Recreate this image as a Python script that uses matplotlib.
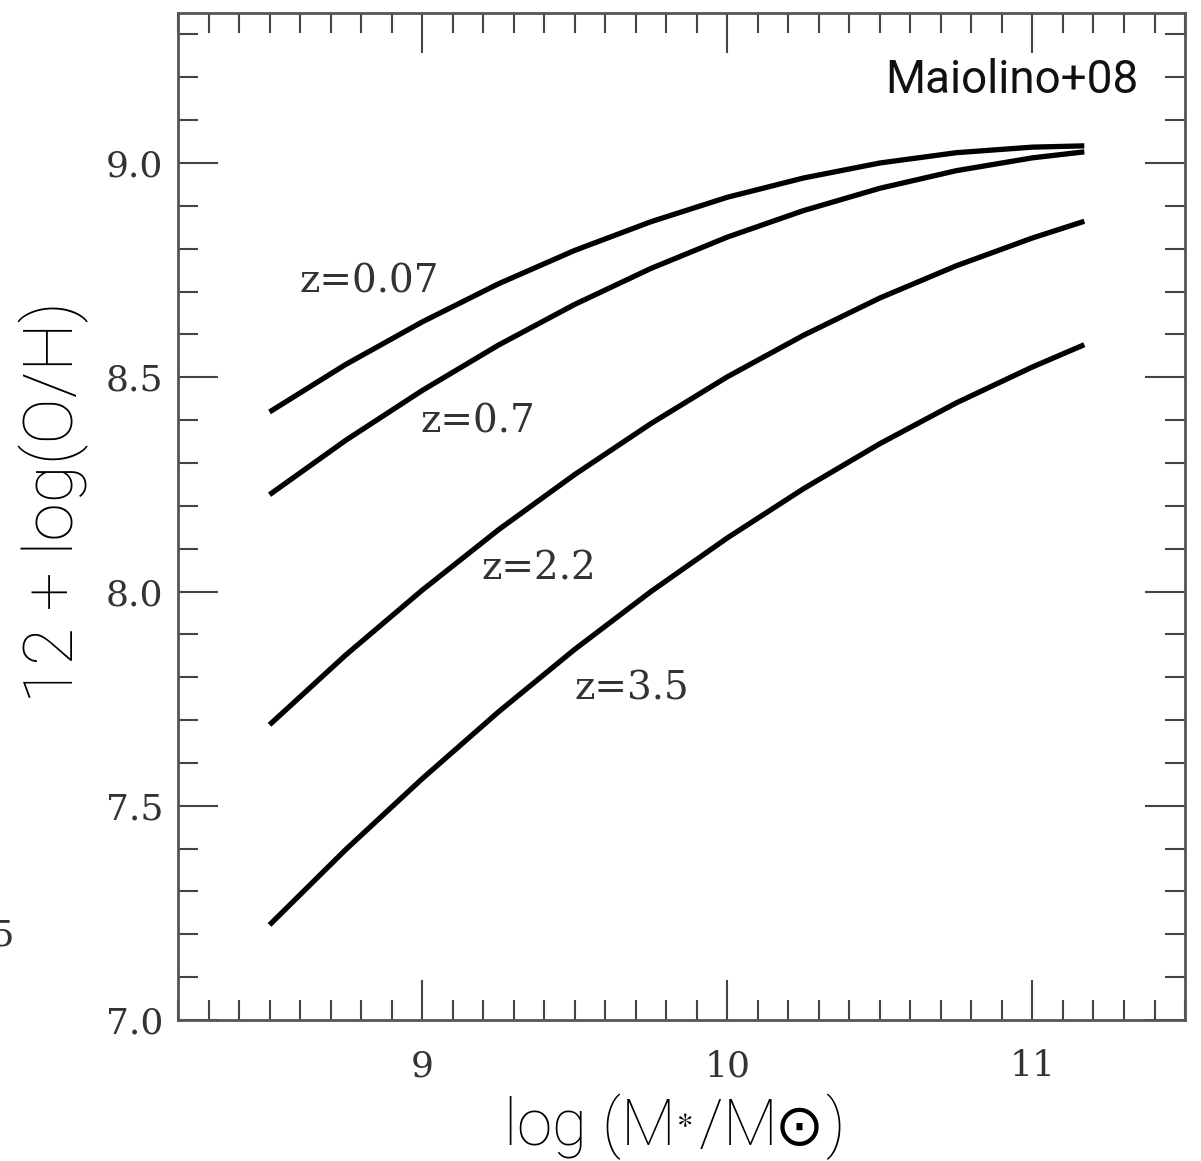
import numpy as np
import matplotlib
matplotlib.use('Agg')
import matplotlib.pyplot as plt
from matplotlib.ticker import MultipleLocator, FormatStrFormatter
from matplotlib.offsetbox import TextArea, HPacker, AnnotationBbox

plt.rcParams['mathtext.fontset'] = 'stix'

# mass grid (log M*/Msun) and metallicity curves
logm = [8.5, 8.75, 9.0, 9.25, 9.5, 9.75, 10.0, 10.25, 10.5, 10.75, 11.0, 11.17]
oh_z007 = [8.419, 8.530, 8.629, 8.718, 8.796, 8.863, 8.920, 8.965, 9.000, 9.024, 9.037, 9.040]
oh_z07 = [8.226, 8.353, 8.469, 8.575, 8.670, 8.754, 8.827, 8.889, 8.941, 8.982, 9.012, 9.026]
oh_z22 = [7.689, 7.852, 8.003, 8.144, 8.273, 8.392, 8.501, 8.598, 8.685, 8.760, 8.825, 8.864]
oh_z35 = [7.222, 7.398, 7.563, 7.719, 7.865, 8.000, 8.125, 8.240, 8.345, 8.440, 8.524, 8.576]

curves = [oh_z007, oh_z07, oh_z22, oh_z35]
labels = ['z=0.07', 'z=0.7', 'z=2.2', 'z=3.5']
label_xy = [(8.597, 8.697), (8.996, 8.371), (9.195, 8.028), (9.499, 7.747)]

fig = plt.figure(figsize=(12.01, 11.61), dpi=100)
ax = fig.add_axes([0.1482, 0.1214, 0.8385, 0.8674])

for y in curves:
    ax.plot(logm, y, color='black', lw=3.8, solid_capstyle='butt')

for lab, (lx, ly) in zip(labels, label_xy):
    ax.text(lx, ly, lab, family='DejaVu Serif', fontsize=28, color='#333333',
            ha='left', va='baseline')

ax.set_xlim(8.2, 11.5)
ax.set_ylim(7.0, 9.35)

ax.xaxis.set_major_locator(MultipleLocator(1))
ax.xaxis.set_minor_locator(MultipleLocator(0.1))
ax.yaxis.set_major_locator(MultipleLocator(0.5))
ax.yaxis.set_minor_locator(MultipleLocator(0.1))
ax.xaxis.set_major_formatter(FormatStrFormatter('%d'))
ax.yaxis.set_major_formatter(FormatStrFormatter('%.1f'))

ax.tick_params(which='both', direction='in', top=True, right=True,
               color='#444444', width=1.5)
ax.tick_params(which='major', length=28.8)
ax.tick_params(which='minor', length=14.4)
ax.tick_params(axis='x', which='major', pad=21, labelsize=26, labelcolor='#333333')
ax.tick_params(axis='y', which='major', pad=10.5, labelsize=26, labelcolor='#333333')
for t in ax.get_xticklabels() + ax.get_yticklabels():
    t.set_family('DejaVu Serif')

for s in ax.spines.values():
    s.set_color('#555555')
    s.set_linewidth(2.0)

# axis titles and note
fig.text(0.045, 0.5676, '12 + log(O/H)', rotation=90, ha='center', va='center',
         family='Roboto', fontweight='light', fontsize=50, color='black')

# x title built from pieces so the sun symbol can come from DejaVu Sans
lab_font = dict(family='Roboto', fontweight='light', fontsize=46, color='black')
parts = [TextArea(r'log (M$^{_{\ast}}$/M', textprops=lab_font),
         TextArea('\u2299', textprops=dict(family=['DejaVu Sans', 'Noto Sans CJK SC'],
                                            fontweight='normal', fontsize=42,
                                            color='black')),
         TextArea(')', textprops=lab_font)]
xlab = HPacker(children=parts, align='baseline', pad=0, sep=1)
ab = AnnotationBbox(xlab, (0.561, 0.03), xycoords='figure fraction',
                    frameon=False, box_alignment=(0.5, 0.5))
fig.add_artist(ab)

ax.text(0.954, 0.955, 'Maiolino+08', transform=ax.transAxes, ha='right', va='top',
        family='Roboto', fontweight='normal', fontsize=33, color='#111111')

# clipped tick label of neighbouring panel
fig.text(15 / 1201, 1 - 945 / 1161, '7.5', family='DejaVu Serif', fontsize=26,
         color='#333333', ha='right', va='baseline')

fig.savefig('out.png', dpi=100)
